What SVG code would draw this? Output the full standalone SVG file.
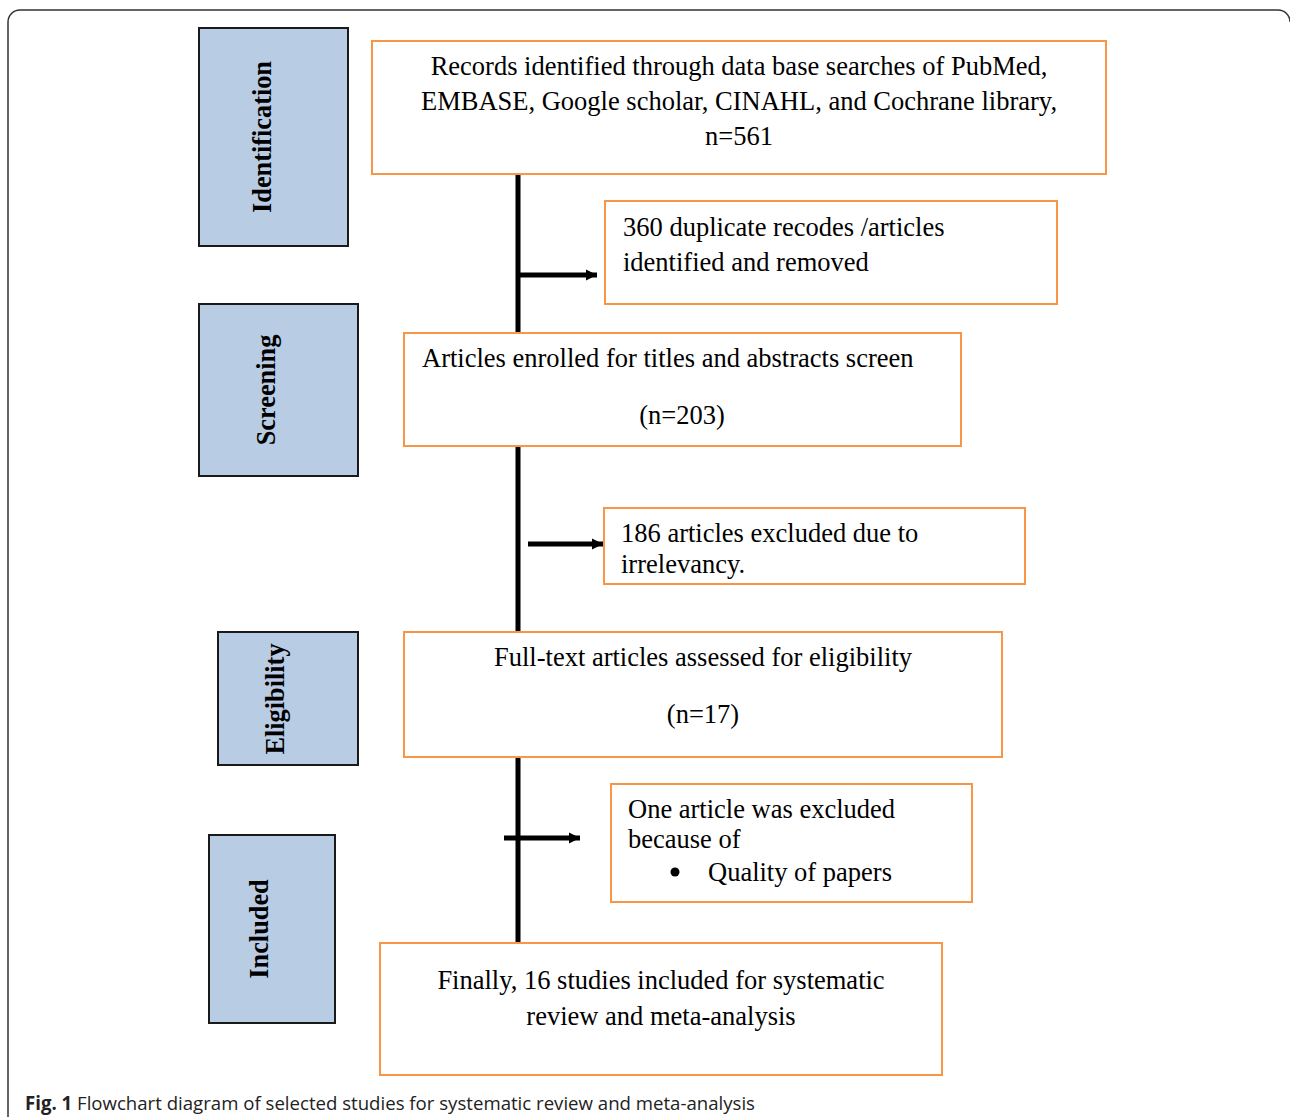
<svg xmlns="http://www.w3.org/2000/svg" width="1290" height="1117" viewBox="0 0 1290 1117">
<style>
.stage{fill:#b8cce4;stroke:#1a1a1a;stroke-width:2}
.box{fill:#fff;stroke:#f79646;stroke-width:2}
.t{font-family:"Liberation Serif","Times New Roman",serif;font-size:26.5px;fill:#000}
.v{font-family:"Liberation Serif","Times New Roman",serif;font-size:26.3px;font-weight:bold;fill:#000}
.c{font-family:"Open Sans","Liberation Sans",sans-serif;font-size:19px;fill:#222}
.ln{stroke:#000;stroke-width:5;fill:none}
</style>
<defs>
<marker id="ah" viewBox="0 0 10 10" refX="10" refY="5" markerWidth="2.2" markerHeight="2.8" orient="auto" markerUnits="strokeWidth">
<path d="M0,0 L10,5 L0,10 z" fill="#000"/>
</marker>
</defs>
<rect width="1290" height="1117" fill="#fff"/>
<path d="M8,1117 V22 A12,12 0 0 1 20,10 H1278 A12,12 0 0 1 1290,22" fill="none" stroke="#333" stroke-width="1.5"/>

<g id="connectors">
<line class="ln" x1="518" y1="174" x2="518" y2="333"/>
<line class="ln" x1="518" y1="446" x2="518" y2="632"/>
<line class="ln" x1="518" y1="757" x2="518" y2="943"/>
<line class="ln" x1="518" y1="275" x2="597" y2="275" marker-end="url(#ah)"/>
<line class="ln" x1="528" y1="544" x2="603" y2="544" marker-end="url(#ah)"/>
<line class="ln" x1="504" y1="838" x2="580" y2="838" marker-end="url(#ah)"/>
</g>

<g id="stage-identification">
<rect class="stage" x="199" y="28" width="149" height="218"/>
<text class="v" transform="translate(271,137) rotate(-90)" text-anchor="middle">Identification</text>
</g>
<g id="stage-screening">
<rect class="stage" x="199" y="304" width="159" height="172"/>
<text class="v" transform="translate(275,390) rotate(-90)" text-anchor="middle">Screening</text>
</g>
<g id="stage-eligibility">
<rect class="stage" x="218" y="632" width="140" height="133"/>
<text class="v" transform="translate(284,699) rotate(-90)" text-anchor="middle">Eligibility</text>
</g>
<g id="stage-included">
<rect class="stage" x="209" y="835" width="126" height="188"/>
<text class="v" transform="translate(268,929) rotate(-90)" text-anchor="middle">Included</text>
</g>

<g id="records">
<rect class="box" x="372" y="41" width="734" height="133"/>
<text class="t" x="739" y="75" text-anchor="middle">Records identified through data base searches of PubMed,</text>
<text class="t" x="739" y="110" text-anchor="middle">EMBASE, Google scholar, CINAHL, and Cochrane library,</text>
<text class="t" x="739" y="145" text-anchor="middle">n=561</text>
</g>
<g id="duplicates">
<rect class="box" x="605" y="201" width="452" height="103"/>
<text class="t" x="623" y="236">360 duplicate recodes /articles</text>
<text class="t" x="623" y="271">identified and removed</text>
</g>
<g id="screened">
<rect class="box" x="404" y="333" width="557" height="113"/>
<text class="t" x="422" y="367">Articles enrolled for titles and abstracts screen</text>
<text class="t" x="682" y="424" text-anchor="middle">(n=203)</text>
</g>
<g id="excluded-irrelevant">
<rect class="box" x="604" y="508" width="421" height="76"/>
<text class="t" x="621" y="542">186 articles excluded due to</text>
<text class="t" x="621" y="573">irrelevancy.</text>
</g>
<g id="fulltext">
<rect class="box" x="404" y="632" width="598" height="125"/>
<text class="t" x="703" y="666" text-anchor="middle">Full-text articles assessed for eligibility</text>
<text class="t" x="703" y="723" text-anchor="middle">(n=17)</text>
</g>
<g id="excluded-quality">
<rect class="box" x="611" y="784" width="361" height="118"/>
<text class="t" x="628" y="818">One article was excluded</text>
<text class="t" x="628" y="848">because of</text>
<circle cx="675" cy="872" r="4.5" fill="#000"/>
<text class="t" x="708" y="881">Quality of papers</text>
</g>
<g id="included">
<rect class="box" x="380" y="943" width="562" height="132"/>
<text class="t" x="661" y="989" text-anchor="middle">Finally, 16 studies included for systematic</text>
<text class="t" x="661" y="1025" text-anchor="middle">review and meta-analysis</text>
</g>

<text class="c" x="25" y="1110" textLength="730" lengthAdjust="spacingAndGlyphs"><tspan font-weight="bold">Fig. 1</tspan> Flowchart diagram of selected studies for systematic review and meta-analysis</text>
</svg>
